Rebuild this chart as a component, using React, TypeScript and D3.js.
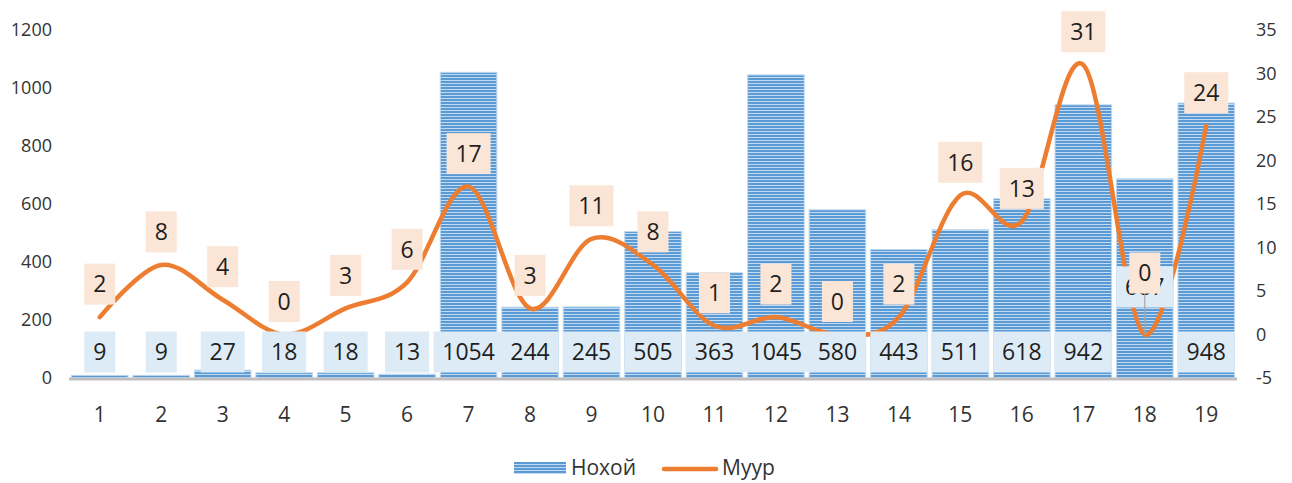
import React, {JSX} from "react";
import * as d3 from "d3";

const categories = ["1", "2", "3", "4", "5", "6", "7", "8", "9", "10", "11", "12", "13", "14", "15", "16", "17", "18", "19"];
const dogValues = [9, 9, 27, 18, 18, 13, 1054, 244, 245, 505, 363, 1045, 580, 443, 511, 618, 942, 687, 948];
const catValues = [2, 8, 4, 0, 3, 6, 17, 3, 11, 8, 1, 2, 0, 2, 16, 13, 31, 0, 24];
const leftTicks = [0, 200, 400, 600, 800, 1000, 1200];
const rightTicks = [-5, 0, 5, 10, 15, 20, 25, 30, 35];

const FONT = "'Open Sans', 'Noto Sans', sans-serif";

const App = (): JSX.Element => {
    const width = 1292
    const height = 483
    const top = 30
    const bottom = 378
    const x = d3.scaleBand(categories, [69, 1237]).paddingInner(0.08).paddingOuter(0.04);
    const yL = d3.scaleLinear([0, 1200], [bottom, top]);
    const yR = d3.scaleLinear([-5, 35], [bottom, top]);
    const cx = (i: number) => (x(categories[i]) as number) + x.bandwidth() / 2;
    const line = d3.line<number>((d, i) => cx(i), d => yR(d)).curve(d3.curveCardinal.tension(0));
    const boxW = (s: string) => s.length * 13 + 18;
    const boxH = 41;

    return (
        <svg width={width} height={height} style={{position: "absolute", left: 0, top: 0}} fontFamily={FONT}>
            <defs>
                <pattern id="stripes" width={6} height={3} patternUnits="userSpaceOnUse">
                    <rect width={6} height={3} fill="#c3d9f0"/>
                    <rect width={6} height={2} fill="#5b9bd5"/>
                </pattern>
            </defs>
            {/* left axis */}
            <g fontSize={18} fill="#333" textAnchor="end">
                {leftTicks.map(t => (
                    <text key={t} x={52} y={yL(t)} dy="0.35em">{t}</text>
                ))}
            </g>
            {/* right axis */}
            <g fontSize={18} fill="#333" textAnchor="start">
                {rightTicks.map(t => (
                    <text key={t} x={1256} y={yR(t)} dy="0.35em">{t}</text>
                ))}
            </g>
            {/* bars */}
            <g>
                {dogValues.map((d, i) => (
                    <rect key={i} x={x(categories[i])} y={yL(d)} width={x.bandwidth()} height={bottom - yL(d)}
                          fill="url(#stripes)" stroke="#bdd7ee" strokeWidth={1}/>
                ))}
            </g>
            <line x1={69} x2={1237} y1={bottom + 1} y2={bottom + 1} stroke="#bfbfbf" strokeWidth={3}/>
            {/* x labels */}
            <g fontSize={21} fill="#333" textAnchor="middle">
                {categories.map((c, i) => (
                    <text key={c} x={cx(i)} y={415} dy="0.35em">{c}</text>
                ))}
            </g>
            {/* line */}
            <path d={line(catValues) as string} fill="none" stroke="#ed7d31" strokeWidth={4.5} strokeLinecap="round"/>
            {/* bar labels */}
            <g fontSize={23} fill="#1f1f1f" textAnchor="middle">
                {dogValues.map((d, i) => {
                    const s = String(d);
                    const w = boxW(s);
                    const cy = i === 17 ? 287 : 352;
                    return (
                        <g key={i}>
                            <rect x={cx(i) - w / 2} y={cy - boxH / 2} width={w} height={boxH} fill="#ddebf7"/>
                            <text x={cx(i)} y={cy} dy="0.36em">{s}</text>
                        </g>
                    )
                })}
            </g>
            {/* line labels */}
            <g fontSize={23} fill="#1f1f1f" textAnchor="middle">
                {catValues.map((d, i) => {
                    const s = String(d);
                    const w = boxW(s);
                    const py = yR(d);
                    const cy = i === 17 ? 273 : py - 33;
                    return (
                        <g key={i}>
                            {i === 17 && (
                                <line x1={cx(i)} x2={cx(i)} y1={cy + boxH / 2} y2={py} stroke="#a6a6a6" strokeWidth={1.2}/>
                            )}
                            <rect x={cx(i) - w / 2} y={cy - boxH / 2} width={w} height={boxH} fill="#fbe5d6"/>
                            <text x={cx(i)} y={cy} dy="0.36em">{s}</text>
                        </g>
                    )
                })}
            </g>
            {/* legend */}
            <g fontSize={21} fill="#333">
                <rect x={514} y={462} width={52} height={12} fill="url(#stripes)"/>
                <text x={571} y={468} dy="0.35em">Нохой</text>
                <line x1={664} x2={716} y1={469} y2={469} stroke="#ed7d31" strokeWidth={4.5} strokeLinecap="round"/>
                <text x={722} y={468} dy="0.35em">Муур</text>
            </g>
        </svg>
    )
}

export default App;
